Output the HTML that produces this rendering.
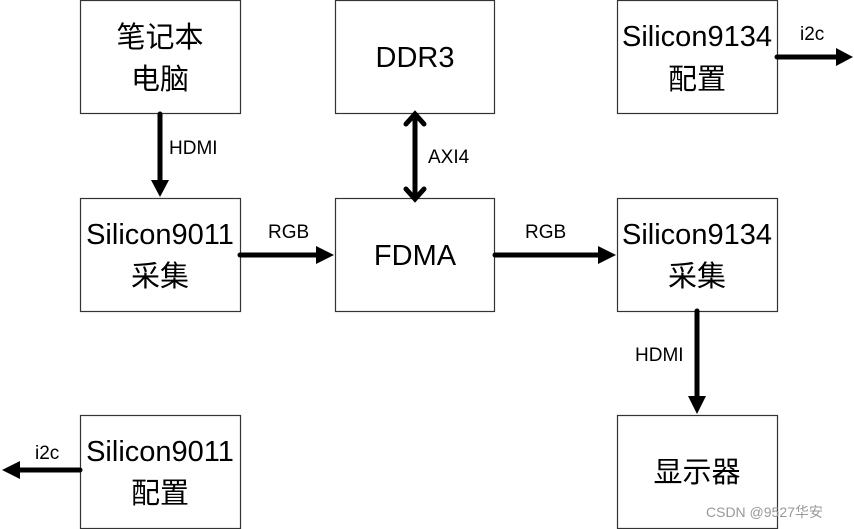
<!DOCTYPE html>
<html><head><meta charset="utf-8"><style>
html,body{margin:0;padding:0;background:#fff;}
svg{display:block;}
.b{fill:#fff;stroke:#333;stroke-width:1.2;}
.t{font-family:"Liberation Sans","Noto Sans CJK SC",sans-serif;font-size:29px;fill:#000;text-anchor:middle;}
.s{font-family:"Liberation Sans","Noto Sans CJK SC",sans-serif;font-size:19px;fill:#000;}
.l{stroke:#000;stroke-width:5;stroke-linecap:round;fill:none;}
</style></head><body>
<svg width="854" height="529" viewBox="0 0 854 529">
<rect class="b" x="80.5" y="0.5" width="160" height="113"/>
<rect class="b" x="335.5" y="0.5" width="159" height="113"/>
<rect class="b" x="617.5" y="0.5" width="160" height="113"/>
<rect class="b" x="80.5" y="198.5" width="160" height="113"/>
<rect class="b" x="335.5" y="198.5" width="159" height="113"/>
<rect class="b" x="617.5" y="198.5" width="160" height="113"/>
<rect class="b" x="80.5" y="415.5" width="160" height="113"/>
<rect class="b" x="617.5" y="415.5" width="160" height="113"/>

<text class="t" x="160" y="47">笔记本</text>
<text class="t" x="160" y="89">电脑</text>
<text class="t" x="415" y="67">DDR3</text>
<text class="t" x="697" y="46">Silicon9134</text>
<text class="t" x="697" y="89">配置</text>
<text class="t" x="160" y="244">Silicon9011</text>
<text class="t" x="160" y="286">采集</text>
<text class="t" x="415" y="265">FDMA</text>
<text class="t" x="697" y="244">Silicon9134</text>
<text class="t" x="697" y="286">采集</text>
<text class="t" x="160" y="461">Silicon9011</text>
<text class="t" x="160" y="503">配置</text>
<text class="t" x="697" y="482">显示器</text>

<line class="l" x1="160" y1="114" x2="160" y2="182"/>
<polygon points="151,180 169,180 160,197"/>
<text class="s" x="169" y="154">HDMI</text>
<line class="l" x1="415" y1="116" x2="415" y2="196"/>
<polyline class="l" points="406,124 415,114 424,124"/>
<polyline class="l" points="406,189 415,199 424,189"/>
<text class="s" x="428" y="163">AXI4</text>
<line class="l" x1="240" y1="255" x2="318" y2="255"/>
<polygon points="316,246 334,255 316,264"/>
<text class="s" x="268" y="238">RGB</text>
<line class="l" x1="495" y1="255" x2="600" y2="255"/>
<polygon points="598,246 616,255 598,264"/>
<text class="s" x="525" y="238">RGB</text>
<line class="l" x1="697" y1="311" x2="697" y2="398"/>
<polygon points="688,396 706,396 697,414"/>
<text class="s" x="635" y="361">HDMI</text>
<line class="l" x1="777" y1="57" x2="838" y2="57"/>
<polygon points="836,48 853,57 836,66"/>
<text class="s" x="800" y="40">i2c</text>
<line class="l" x1="80" y1="470" x2="18" y2="470"/>
<polygon points="20,461 2,470 20,479"/>
<text class="s" x="35" y="459">i2c</text>

<text x="706" y="517" font-family="Liberation Sans,Noto Sans CJK SC,sans-serif" font-size="14" fill="#999">CSDN @9527华安</text>
</svg>
</body></html>
